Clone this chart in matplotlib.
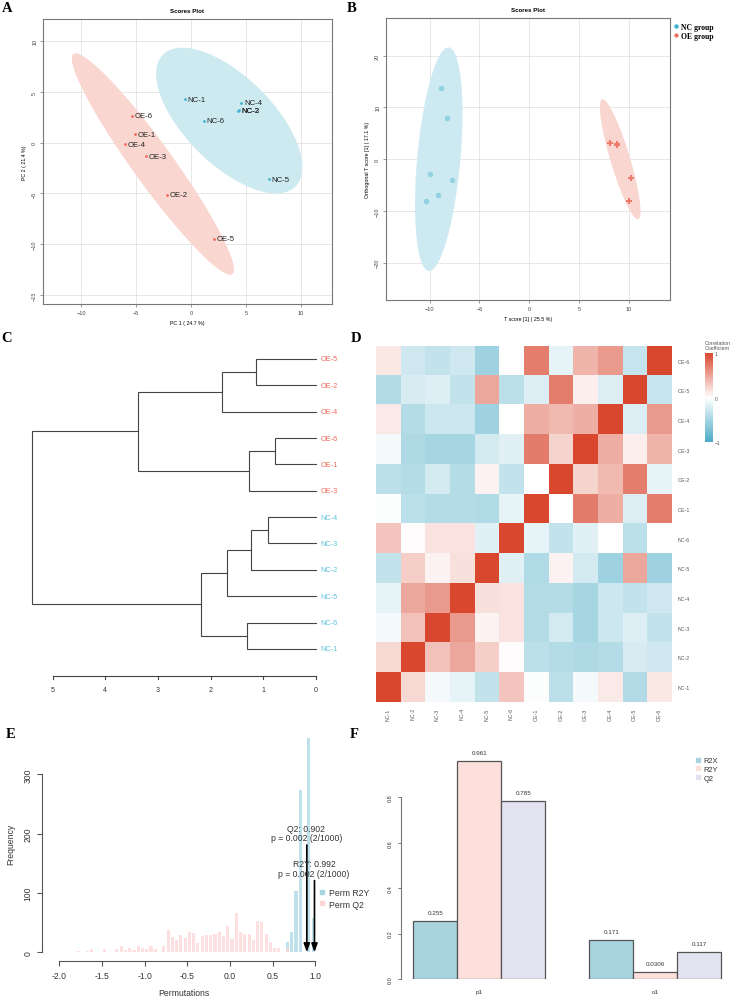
import numpy as np
import matplotlib
matplotlib.use('Agg')
import matplotlib.pyplot as plt
from matplotlib.colors import LinearSegmentedColormap
from matplotlib.lines import Line2D

plt.rcParams['font.family'] = ['Liberation Sans', 'DejaVu Sans']

# ---- data ----
# A: PCA scores
nc_names = ['NC-1', 'NC-2', 'NC-3', 'NC-4', 'NC-5', 'NC-6']
oe_names = ['OE-1', 'OE-2', 'OE-3', 'OE-4', 'OE-5', 'OE-6']
pca_nc_x = [-0.57, 4.32, 4.27, 4.55, 7.03, 1.15]
pca_nc_y = [4.27, 3.20, 3.13, 3.95, -3.62, 2.17]
pca_oe_x = [-5.15, -2.24, -4.09, -6.06, 2.03, -5.39]
pca_oe_y = [0.82, -5.13, -1.35, -0.13, -9.48, 2.67]

# B: OPLS-DA scores
opls_nc_t = [-8.87, -8.30, -10.00, -7.80, -9.20, -10.33]
opls_nc_o = [13.8, 7.9, -2.78, -4.0, -6.83, -8.1]
opls_oe_t = [8.04, 8.77, 8.83, 8.80, 10.24, 9.97]
opls_oe_o = [3.15, 2.95, 2.70, 2.80, -3.6, -8.1]

# C: hierarchical clustering (leaves in plotted order, merges as in hclust)
leaves = ['OE-5', 'OE-2', 'OE-4', 'OE-6', 'OE-1', 'OE-3',
          'NC-4', 'NC-3', 'NC-2', 'NC-5', 'NC-6', 'NC-1']
merge_a = [0, 12, 3, 14, 13, 6, 17, 18, 10, 19, 16]
merge_b = [1, 2, 4, 5, 15, 7, 8, 9, 11, 20, 21]
merge_h = [1.13, 1.79, 0.77, 1.27, 3.38, 0.92, 1.23, 1.69, 1.30, 2.18, 5.38]

# D: correlation matrix, order NC-1..NC-6, OE-1..OE-6
samples = nc_names + oe_names
corr = [
    [1.00, 0.21, -0.06, -0.13, -0.33, 0.31, -0.01, -0.36, -0.06, 0.11, -0.42, 0.12],
    [0.21, 1.00, 0.33, 0.47, 0.26, 0.01, -0.36, -0.41, -0.44, -0.41, -0.22, -0.26],
    [-0.06, 0.33, 1.00, 0.54, 0.07, 0.15, -0.41, -0.25, -0.48, -0.28, -0.18, -0.33],
    [-0.13, 0.47, 0.54, 1.00, 0.16, 0.15, -0.41, -0.41, -0.48, -0.28, -0.33, -0.26],
    [-0.33, 0.26, 0.07, 0.16, 1.00, -0.17, -0.43, 0.07, -0.25, -0.53, 0.47, -0.53],
    [0.31, 0.01, 0.15, 0.15, -0.17, 1.00, -0.14, -0.33, -0.17, 0.00, -0.36, 0.00],
    [-0.01, -0.36, -0.41, -0.41, -0.43, -0.14, 1.00, 0.00, 0.71, 0.43, -0.19, 0.70],
    [-0.36, -0.41, -0.25, -0.41, 0.07, -0.33, 0.00, 1.00, 0.23, 0.37, 0.70, -0.13],
    [-0.06, -0.44, -0.48, -0.48, -0.25, -0.17, 0.71, 0.23, 1.00, 0.43, 0.09, 0.40],
    [0.11, -0.41, -0.28, -0.28, -0.53, 0.00, 0.43, 0.37, 0.43, 1.00, -0.19, 0.54],
    [-0.42, -0.22, -0.18, -0.33, 0.47, -0.36, -0.19, 0.70, 0.09, -0.19, 1.00, -0.31],
    [0.12, -0.26, -0.33, -0.26, -0.53, 0.00, 0.70, -0.13, 0.40, 0.54, -0.31, 1.00],
]

# E: permutation histograms
r2y_bins = [0.675, 0.725, 0.775, 0.825, 0.925, 0.975]
r2y_counts = [18, 34, 104, 273, 362, 57]
q2_bins = [-1.775, -1.675, -1.625, -1.475, -1.325, -1.275, -1.225, -1.175, -1.125,
           -1.075, -1.025, -0.975, -0.925, -0.875, -0.775, -0.725, -0.675, -0.625,
           -0.575, -0.525, -0.475, -0.425, -0.375, -0.325, -0.275, -0.225, -0.175,
           -0.125, -0.075, -0.025, 0.025, 0.075, 0.125, 0.175, 0.225, 0.275, 0.325,
           0.375, 0.425, 0.475, 0.525, 0.575, 0.675]
q2_counts = [2, 3, 6, 6, 6, 10, 4, 7, 4, 11, 8, 6, 11, 6, 11, 38, 25, 21, 29, 24, 34,
             33, 16, 28, 29, 29, 31, 34, 28, 45, 22, 67, 35, 31, 31, 21, 53, 51, 31,
             18, 8, 8, 8]
q2_obs, r2y_obs = 0.902, 0.992

# F: model summary
components = ['p1', 'o1']
r2x = [0.255, 0.171]
r2y = [0.961, 0.0306]
q2 = [0.785, 0.117]

# ---- figure ----
W, H = 731, 1003
fig = plt.figure(figsize=(W / 100, H / 100), dpi=100)


def add_ax(l, t, r, b):
    return fig.add_axes([l / W, 1 - b / H, (r - l) / W, (b - t) / H])


def ellipse(x, y, n=200):
    pts = np.column_stack([x, y])
    c = np.cov(pts.T)
    L = np.linalg.cholesky(c)
    t = np.linspace(0, 2 * np.pi, n)
    circ = np.vstack([np.cos(t), np.sin(t)]) * np.sqrt(5.991)
    e = (L @ circ).T + pts.mean(axis=0)
    return e[:, 0], e[:, 1]


def score_axes(ax):
    ax.grid(True, color='#e3e3e3', lw=0.6)
    ax.set_axisbelow(True)
    for s in ax.spines.values():
        s.set_color('#777777')
        s.set_linewidth(0.8)
    ax.tick_params(labelsize=4, length=2, width=0.5, color='#777777', pad=2,
                   labelcolor='#444444')
    ax.tick_params(axis='y', labelrotation=90)
    for lb in ax.get_yticklabels():
        lb.set_va('center')


nc_col = '#3db5cf'
oe_col = '#f0695a'

# A
axA = add_ax(42.7, 20, 332, 305)
ex, ey = ellipse(pca_nc_x, pca_nc_y)
axA.fill(ex, ey, color='#cdeaf1', lw=0, zorder=1)
ex, ey = ellipse(pca_oe_x, pca_oe_y)
axA.fill(ex, ey, color='#f9d6d0', lw=0, zorder=1)
axA.scatter(pca_nc_x, pca_nc_y, s=4, color=nc_col, zorder=3, lw=0)
axA.scatter(pca_oe_x, pca_oe_y, s=4, color=oe_col, zorder=3, lw=0)
for xs, ys, names in [(pca_nc_x, pca_nc_y, nc_names), (pca_oe_x, pca_oe_y, oe_names)]:
    for xv, yv, nm in zip(xs, ys, names):
        axA.annotate(nm, (xv, yv), xytext=(2, 0), textcoords='offset points',
                     fontsize=5.6, va='center', ha='left', color='#222222', zorder=4)
axA.set_xlim(-13.5, 12.8)
axA.set_ylim(-15.9, 12.2)
axA.set_xticks([-10, -5, 0, 5, 10])
axA.set_yticks([-15, -10, -5, 0, 5, 10])
score_axes(axA)
axA.set_title('Scores Plot', fontsize=4.4, fontweight='bold', pad=5)
axA.set_xlabel('PC 1 ( 24.7 %)', fontsize=3.8, labelpad=4)
axA.set_ylabel('PC 2 ( 21.4 %)', fontsize=3.8, labelpad=4)

# B
axB = add_ax(385.7, 19.3, 670, 301)
ex, ey = ellipse(opls_nc_t, opls_nc_o)
axB.fill(ex, ey, color='#cdeaf2', lw=0, zorder=1)
ex, ey = ellipse(opls_oe_t, opls_oe_o)
axB.fill(ex, ey, color='#f9d6d0', lw=0, zorder=1)
axB.scatter(opls_nc_t, opls_nc_o, s=16, color='#93d2e2', zorder=3, lw=0)
axB.scatter(opls_oe_t, opls_oe_o, s=14, marker='P', color='#ee7a6c', zorder=3, lw=0)
axB.set_xlim(-14.4, 14.1)
axB.set_ylim(-27.2, 27.2)
axB.set_xticks([-10, -5, 0, 5, 10])
axB.set_yticks([-20, -10, 0, 10, 20])
score_axes(axB)
axB.set_title('Scores Plot', fontsize=4.4, fontweight='bold', pad=5)
axB.set_xlabel('T score [1] ( 25.5 %)', fontsize=3.8, labelpad=4)
axB.set_ylabel('Orthogonal T score [1] ( 17.1 %)', fontsize=3.8, labelpad=4)
hB = [Line2D([], [], ls='', marker='o', ms=2.2, color=nc_col),
      Line2D([], [], ls='', marker='P', ms=2.2, color=oe_col)]
axB.legend(hB, ['NC group', 'OE group'], loc='upper left', bbox_to_anchor=(1.01, 0.99),
           frameon=False, handlelength=0.4, handletextpad=0.4, labelspacing=0.15,
           borderaxespad=0, borderpad=0.2,
           prop={'family': 'Liberation Serif', 'weight': 'bold', 'size': 5.6})

# C
axC = add_ax(20, 345, 365, 700)
axC.set_xlim(5.617, -0.93)
axC.set_ylim(12.9, -0.569)
axC.axis('off')
ypos = {i: float(i) for i in range(len(leaves))}
hgt = {i: 0.0 for i in range(len(leaves))}
for k, (a, b, h) in enumerate(zip(merge_a, merge_b, merge_h)):
    node = len(leaves) + k
    axC.plot([hgt[a], h, h, hgt[b]], [ypos[a], ypos[a], ypos[b], ypos[b]],
             color='#444444', lw=0.8, solid_joinstyle='miter')
    ypos[node] = (ypos[a] + ypos[b]) / 2
    hgt[node] = h
for i, nm in enumerate(leaves):
    axC.text(-0.09, i, nm, fontsize=5.3, va='center', ha='left',
             color=oe_col if nm.startswith('OE') else '#5ec1dc')
ax_y = 12.01
axC.plot([5, 0], [ax_y, ax_y], color='#444444', lw=0.8)
for tv in [5, 4, 3, 2, 1, 0]:
    axC.plot([tv, tv], [ax_y, ax_y + 0.15], color='#444444', lw=0.8)
    axC.text(tv, ax_y + 0.52, str(tv), fontsize=5, ha='center', va='center', color='#333333')

# D
axD = add_ax(376, 346.7, 671.7, 702.7)
cmap = LinearSegmentedColormap.from_list('rb', ['#4aabc6', '#ffffff', '#d9472f'])
mat = np.array(corr)[::-1]
im = axD.imshow(mat, cmap=cmap, vmin=-1, vmax=1, aspect='auto', interpolation='nearest')
axD.set_xticks(range(len(samples)))
axD.set_xticklabels(samples, rotation=90, fontsize=3.8, color='#555555')
axD.set_yticks(range(len(samples)))
axD.set_yticklabels(samples[::-1], fontsize=3.8, color='#555555')
axD.yaxis.tick_right()
axD.tick_params(length=0, pad=4)
for s in axD.spines.values():
    s.set_visible(False)
cax = add_ax(705, 354, 713.3, 443.3)
cb = fig.colorbar(im, cax=cax, ticks=[-1, 0, 1])
cb.outline.set_visible(False)
cb.ax.tick_params(labelsize=3.6, length=0, pad=1, colors='#555555')
cax.text(0, 1.03, 'Correlation\nCoefficient', transform=cax.transAxes, ha='left',
         va='bottom', fontsize=3.8, color='#555555', linespacing=1.1)

# E
axE = add_ax(42.3, 727, 326, 962.3)
axE.bar(r2y_bins, r2y_counts, width=0.036, color='#bfe1eb', lw=0, zorder=1)
axE.bar(q2_bins, q2_counts, width=0.036, color='#fbd5d3', alpha=0.75, lw=0, zorder=2)
axE.set_xlim(-2.2, 1.127)
axE.set_ylim(-15.2, 381.6)
for s in ['top', 'right']:
    axE.spines[s].set_visible(False)
axE.spines['left'].set_bounds(0, 300)
axE.spines['bottom'].set_bounds(-2, 1)
for s in ['left', 'bottom']:
    axE.spines[s].set_color('#555555')
    axE.spines[s].set_linewidth(0.8)
axE.set_xticks([-2.0, -1.5, -1.0, -0.5, 0.0, 0.5, 1.0])
axE.set_xticklabels(['-2.0', '-1.5', '-1.0', '-0.5', '0.0', '0.5', '1.0'])
axE.set_yticks([0, 100, 200, 300])
axE.tick_params(labelsize=6.2, length=3.5, width=0.8, color='#555555', labelcolor='#333333')
axE.tick_params(axis='y', labelrotation=90)
for lb in axE.get_yticklabels():
    lb.set_va('center')
axE.set_xlabel('Permutations', fontsize=6.2, color='#333333', labelpad=6)
axE.set_ylabel('Frequency', fontsize=6.2, color='#333333', labelpad=6)
for val, top, lbl in [(q2_obs, 181, 'Q2: %.3f' % q2_obs), (r2y_obs, 121, 'R2Y: %.3f' % r2y_obs)]:
    axE.annotate('', xy=(val, 0), xytext=(val, top),
                 arrowprops=dict(arrowstyle='-|>,head_length=0.5,head_width=0.18',
                                 color='black', lw=1.2, shrinkA=0, shrinkB=0), zorder=4)
    axE.text(val - 0.005, top + 5, lbl + '\np = 0.002 (2/1000)', fontsize=6.2,
             ha='center', va='bottom', color='#333333', linespacing=1.05, zorder=5)
hE = [Line2D([], [], ls='', marker='s', ms=2.6, color='#a9d4e2'),
      Line2D([], [], ls='', marker='s', ms=2.6, color='#fbd5d3')]
axE.legend(hE, ['Perm R2Y', 'Perm Q2'], loc='upper left', bbox_to_anchor=(0.98, 0.31),
           frameon=False, fontsize=6.2, handlelength=0.5, handletextpad=0.5,
           labelspacing=0.25, borderaxespad=0, borderpad=0, labelcolor='#333333')

# F
axF = add_ax(400.7, 734.8, 731, 980)
x0 = np.arange(len(components)) * 4 + 1
cols = ['#a9d3df', '#fde0dc', '#e2e2f0']
for k, (vals, c) in enumerate(zip([r2x, r2y, q2], cols)):
    bx = x0 + k
    axF.bar(bx, vals, width=1, align='edge', color=c, edgecolor='#555555', lw=0.9)
    for xv, v in zip(bx, vals):
        axF.annotate('%g' % v, (xv + 0.5, v), xytext=(0, 6.2), textcoords='offset points',
                     ha='center', va='center', fontsize=4.5, color='#333333')
axF.set_xlim(0.714, 8.22)
axF.set_ylim(0, 1.08)
axF.set_xticks(x0 + 1.5)
axF.set_xticklabels(components)
axF.set_yticks([0, 0.2, 0.4, 0.6, 0.8])
axF.set_yticklabels(['0.0', '0.2', '0.4', '0.6', '0.8'])
for s in ['top', 'right', 'bottom']:
    axF.spines[s].set_visible(False)
axF.spines['left'].set_bounds(0, 0.8)
axF.spines['left'].set_color('#777777')
axF.spines['left'].set_linewidth(0.8)
axF.tick_params(axis='x', length=0, labelsize=4.5, pad=7, labelcolor='#333333')
axF.tick_params(axis='y', labelsize=4, length=2.5, width=0.7, color='#777777',
                labelrotation=90, labelcolor='#333333')
for lb in axF.get_yticklabels():
    lb.set_va('center')
hF = [Line2D([], [], ls='', marker='s', ms=2.6, color=c) for c in cols]
axF.legend(hF, ['R2X', 'R2Y', 'Q2'], loc='upper left', bbox_to_anchor=(0.895, 0.905),
           frameon=False, fontsize=5.4, handlelength=0.5, handletextpad=0.5,
           labelspacing=0.2, borderaxespad=0, borderpad=0, labelcolor='#333333')

# panel letters
for lt, (px, py) in zip('ABCDEF', [(7, 8), (352, 8), (7, 338), (356, 338), (11, 735), (354, 735)]):
    fig.text(px / W, 1 - py / H, lt, fontsize=10.5, fontweight='bold',
             family='Liberation Serif', ha='center', va='center')

fig.savefig('out.png', dpi=100)
